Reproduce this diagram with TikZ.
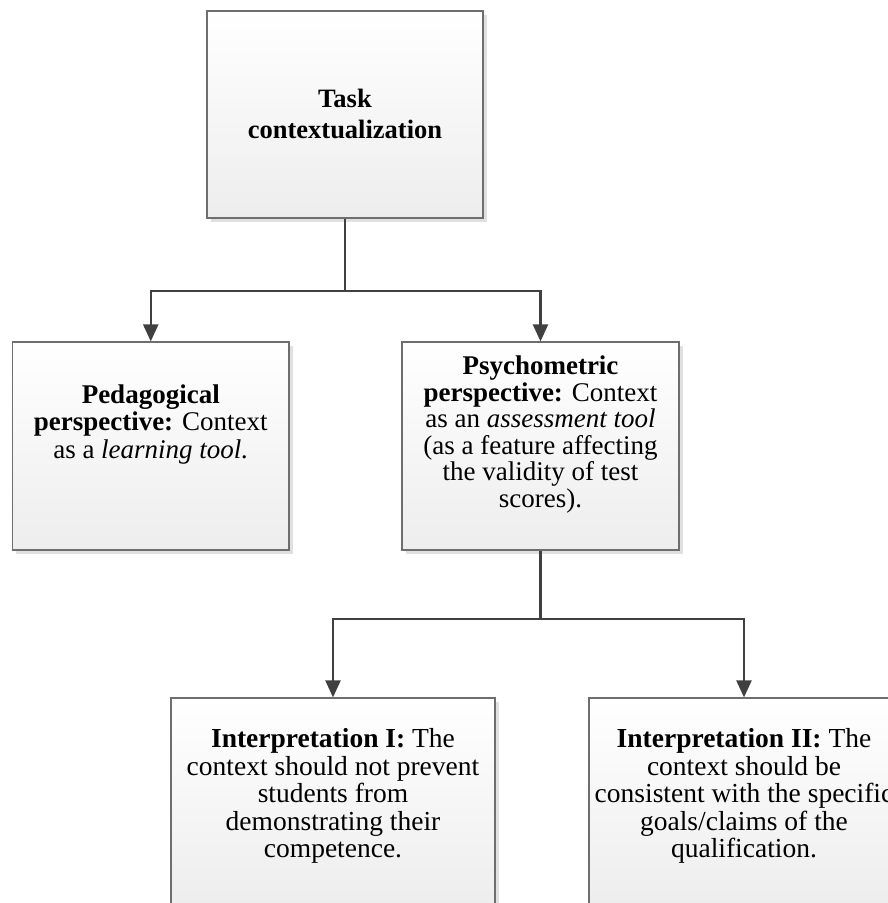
\documentclass[tikz,border=0pt]{standalone}
\usepackage{fontspec}
\setmainfont{Liberation Serif}
\usetikzlibrary{arrows.meta,shadows}
\definecolor{conncol}{HTML}{404040}
\definecolor{bordcol}{HTML}{6E6E6E}
\tikzset{
  boxnode/.style={rectangle, draw=bordcol, line width=1.2pt, inner sep=0pt,
    top color=white, bottom color=black!7,
    drop shadow={shadow xshift=3.5pt, shadow yshift=-3.5pt, fill=black!12, opacity=1}},
  txtnode/.style={anchor=north, align=center, inner sep=0pt, text=black},
  conn/.style={draw=conncol, line width=2.3pt},
  connarrow/.style={conn, -{Triangle[width=15pt,length=17pt]}}
}
\begin{document}
\begin{tikzpicture}[x=1pt,y=-1pt]
\useasboundingbox (0,0) rectangle (888,903);
\clip (0,0) rectangle (888,903);
% boxes
\node[boxnode, minimum width=276pt, minimum height=207pt] (top) at (345,114.5) {};
\node[boxnode, minimum width=276.5pt, minimum height=208pt] (ped) at (150.75,446) {};
\node[boxnode, minimum width=277pt, minimum height=208pt] (psy) at (540.5,446) {};
\node[boxnode, minimum width=324pt, minimum height=208pt] (int1) at (333,802) {};
\node[boxnode, minimum width=310pt, minimum height=208pt] (int2) at (744,802) {};
% texts
\node[txtnode, font=\fontsize{26.5pt}{31pt}\selectfont] (ttop) at (345,89) {\textbf{Task}\\\textbf{contextualization}};
\node[txtnode, font=\fontsize{27pt}{27.5pt}\selectfont] (tped) at (150.75,384.5) {\textbf{Pedagogical}\\\textbf{perspective:} Context\\as a \textit{learning tool.}};
\node[txtnode, font=\fontsize{27pt}{26.6pt}\selectfont] (tpsy) at (540.5,355.5) {\textbf{Psychometric}\\\textbf{perspective:} Context\\as an \textit{assessment tool}\\(as a feature affecting\\the validity of test\\scores).};
\node[txtnode, font=\fontsize{27.5pt}{27.5pt}\selectfont] (tint1) at (333,728.5) {\textbf{Interpretation I:} The\\context should not prevent\\students from\\demonstrating their\\competence.};
\node[txtnode, font=\fontsize{27.5pt}{27.5pt}\selectfont] (tint2) at (744,728.5) {\textbf{Interpretation II:} The\\context should be\\consistent with the specific\\goals/claims of the\\qualification.};
% connectors
\coordinate (j1) at (345,290.7);
\coordinate (j2) at (540.5,619);
\draw[conn] (top.south) -- (j1);
\draw[connarrow] (j1) -| (ped.north);
\draw[connarrow] (j1) -| (psy.north);
\draw[conn] (psy.south) -- (j2);
\draw[connarrow] (j2) -| (int1.north);
\draw[connarrow] (j2) -| (int2.north);
\end{tikzpicture}
\end{document}
